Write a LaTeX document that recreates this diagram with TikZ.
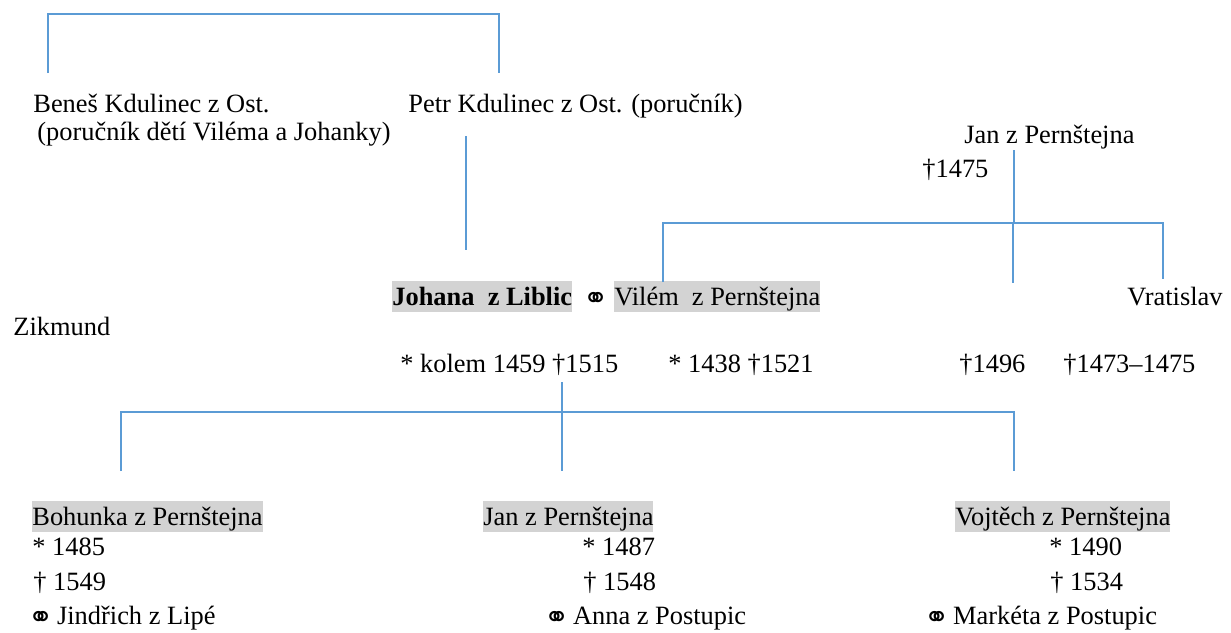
\documentclass[tikz,border=0pt]{standalone}
\usepackage{fontspec}
\setmainfont{Liberation Serif}
\newfontfamily\ringfont{DejaVu Sans}
\newcommand{\wed}{\hspace{-2pt}\raisebox{-1.8pt}{\ringfont\fontsize{15}{15}\selectfont ⚭}\hspace{-1.5pt}}
\newcommand{\famfont}{\fontsize{13.2pt}{15pt}\selectfont}
\definecolor{linkblue}{RGB}{91,155,213}
\definecolor{markgray}{RGB}{211,211,211}
\tikzset{
  person/.style={anchor=base west, inner sep=0pt, font=\famfont},
  marked/.style={person, fill=markgray, text height=12pt, text depth=3.5pt},
  branch/.style={draw=linkblue, line width=0.75pt}
}

\begin{document}
\begin{tikzpicture}[x=0.5pt, y=-0.5pt]
            \useasboundingbox (0,0) rectangle (1231,632);

            % guardians
            \node[person] (benes)     at (33,112)  {Beneš Kdulinec z Ost.};
            \node[person] (benesnote) at (37,140)  {(poručník dětí Viléma a Johanky)};
            \node[person] (petr)      at (408,112) {Petr Kdulinec z Ost. (poručník)};

            % father's side
            \node[person] (janold)    at (964,143) {Jan z Pernštejna};
            \node[person] (janolddth) at (922,177) {†1475};

            % the couple and siblings
            \node[marked, font=\famfont\bfseries] (johana) at (392,305) {Johana\ \ z Liblic};
            \node[person] (wedding)   at (587,305) {\wed};
            \node[marked] (vilem)     at (614,305) {Vilém\ \ z Pernštejna};
            \node[person] (vratislav) at (1127,305) {Vratislav};
            \node[person] (zikmund)   at (13,335)  {Zikmund};
            \node[person] (johanadt)  at (400,372) {* kolem 1459 †1515};
            \node[person] (vilemdt)   at (668,372) {* 1438 †1521};
            \node[person] (zikmunddt) at (959,372) {†1496};
            \node[person] (vratisdt)  at (1063,372) {†1473–1475};

            % children
            \node[marked] (bohunka)   at (32,525)  {Bohunka z Pernštejna};
            \node[person] (bohunkab)  at (32,555)  {* 1485};
            \node[person] (bohunkad)  at (33,590)  {† 1549};
            \node[person] (bohunkam)  at (32,624)  {\wed\ Jindřich z Lipé};
            \node[marked] (jan)       at (483,525) {Jan z Pernštejna};
            \node[person] (janb)      at (582,555) {* 1487};
            \node[person] (jand)      at (583,590) {† 1548};
            \node[person] (janm)      at (548,624) {\wed\ Anna z Postupic};
            \node[marked] (vojtech)   at (955,525) {Vojtěch z Pernštejna};
            \node[person] (vojtechb)  at (1049,555) {* 1490};
            \node[person] (vojtechd)  at (1050,590) {† 1534};
            \node[person] (vojtechm)  at (928,624) {\wed\ Markéta z Postupic};

            % line ends
            \coordinate (benesup)  at (48,73);
            \coordinate (petrup)   at (499,73);
            \coordinate (petrdown) at (466,136);
            \coordinate (couple)   at (466,250);
            \coordinate (jantop)   at (1014,150);
            \coordinate (janfork)  at (1014,223);
            \coordinate (vilemup)  at (663,282);
            \coordinate (zikup)    at (1013,283);
            \coordinate (vratup)   at (1163,279);
            \coordinate (kidstop)  at (562,382);
            \coordinate (kidfork)  at (562,412);
            \coordinate (bohup)    at (121,471);
            \coordinate (janup)    at (562,471);
            \coordinate (vojup)    at (1014,471);

            % draw family lines
            \draw[branch] (benesup) -- ++(0,-59) -| (petrup);
            \draw[branch] (petrdown) -- (couple);
            \draw[branch] (jantop) -- (janfork);
            \draw[branch] (vilemup) |- (janfork) -| (vratup);
            \draw[branch] (janfork -| zikup) -- (zikup);
            \draw[branch] (bohup) |- (kidfork) -| (vojup);
            \draw[branch] (kidstop) -- (janup);
        \end{tikzpicture}
\end{document}
